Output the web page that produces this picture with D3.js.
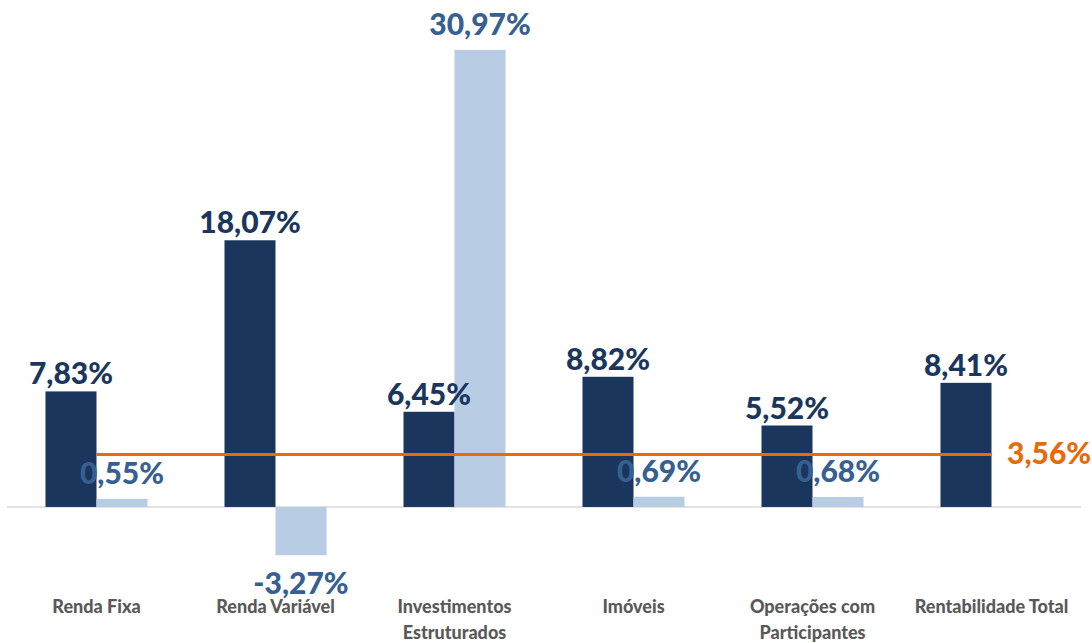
<!DOCTYPE html>
<html><head><meta charset="utf-8">
<script src="https://cdn.jsdelivr.net/npm/d3@7"></script>
<style>html,body{margin:0;padding:0;background:#fff;}svg{display:block;}</style>
</head><body>
<svg id="chart" width="1092" height="643"></svg>
<script>
const categories = ["Renda Fixa", "Renda Variável", "Investimentos Estruturados", "Imóveis", "Operações com Participantes", "Rentabilidade Total"];
const rentabilidade = [7.83, 18.07, 6.45, 8.82, 5.52, 8.41];
const referencia = [0.55, -3.27, 30.97, 0.69, 0.68, null];
const meta = 3.56;

const W = 1092, H = 643;
const svg = d3.select("#chart");
const darkC = "#1b365d", lightC = "#b8cce4", lightLbl = "#366092", orange = "#e46c0a", gray = "#595959";
const fmt = v => d3.format(".2f")(v).replace(".", ",").replace("\u2212", "-") + "%";

const x0 = d3.scaleBand().domain(categories).range([7, 1081]).paddingInner(0.43).paddingOuter(0.215);
const x1 = d3.scaleBand().domain(["r", "b"]).range([0, x0.bandwidth()]);
const y = d3.scaleLinear().domain([-4, 32]).range([566.0, 34.7]);

const data = categories.map((c, i) => ({c, r: rentabilidade[i], b: referencia[i]}));

// zero line
svg.append("line").attr("x1", 7).attr("x2", 1081).attr("y1", y(0)).attr("y2", y(0))
  .attr("stroke", "#d9d9d9").attr("stroke-width", 1.5);

const g = svg.selectAll("g.cat").data(data).join("g").attr("class", "cat")
  .attr("transform", d => `translate(${x0(d.c)},0)`);

g.append("rect").attr("x", x1("r")).attr("width", x1.bandwidth())
  .attr("y", d => y(Math.max(0, d.r))).attr("height", d => Math.abs(y(d.r) - y(0)))
  .attr("fill", darkC);
g.filter(d => d.b != null).append("rect").attr("x", x1("b")).attr("width", x1.bandwidth())
  .attr("y", d => y(Math.max(0, d.b))).attr("height", d => Math.abs(y(d.b) - y(0)))
  .attr("fill", lightC);

// meta line
svg.append("line")
  .attr("x1", x0(categories[0]) + x0.bandwidth() / 2)
  .attr("x2", x0(categories[categories.length - 1]) + x0.bandwidth() / 2)
  .attr("y1", y(meta)).attr("y2", y(meta))
  .attr("stroke", orange).attr("stroke-width", 3);

const valFont = "Lato, 'Open Sans', sans-serif";
const valSize = 30, valWeight = 900;
g.append("text").attr("x", x1("r") + x1.bandwidth() / 2)
  .attr("y", d => y(d.r) - 7).attr("text-anchor", "middle")
  .attr("font-family", valFont).attr("font-weight", valWeight).attr("font-size", valSize)
  .attr("fill", darkC).text(d => fmt(d.r));
g.filter(d => d.b != null).append("text").attr("x", x1("b") + x1.bandwidth() / 2)
  .attr("y", d => d.b >= 0 ? y(d.b) - 15 : y(d.b) + 39).attr("text-anchor", "middle")
  .attr("font-family", valFont).attr("font-weight", valWeight).attr("font-size", valSize)
  .attr("fill", lightLbl).text(d => fmt(d.b));

svg.append("text").attr("x", 1007).attr("y", y(meta) + 10)
  .attr("font-family", valFont).attr("font-weight", valWeight).attr("font-size", valSize)
  .attr("fill", orange).text(fmt(meta));

// category labels with wrap
const catText = g.append("text").attr("text-anchor", "middle")
  .attr("font-family", "Lato, 'Open Sans', sans-serif").attr("font-weight", 900).attr("font-size", 18)
  .attr("fill", gray).attr("transform", `translate(${x0.bandwidth() / 2},0)`);
catText.each(function(d) {
  const t = d3.select(this);
  const words = d.c.split(" ");
  let lines = [], cur = [];
  const probe = t.append("tspan");
  words.forEach(w => {
    const test = cur.concat([w]).join(" ");
    probe.text(test);
    if (probe.node().getComputedTextLength() > x0.step() - 8 && cur.length) {
      lines.push(cur.join(" ")); cur = [w];
    } else cur.push(w);
  });
  lines.push(cur.join(" "));
  probe.remove();
  lines.forEach((l, i) => t.append("tspan").attr("x", 0).attr("y", 613 + i * 25.5).text(l));
});
</script>
</body></html>
